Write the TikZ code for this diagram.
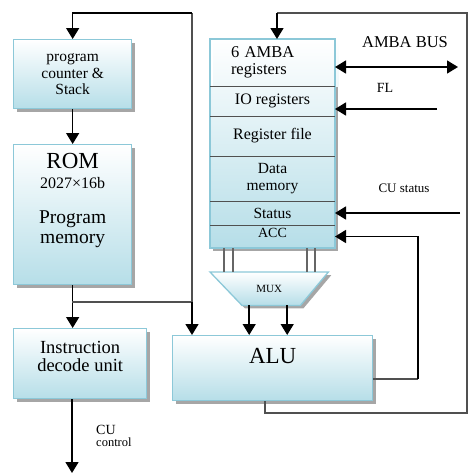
\documentclass[tikz,border=0pt]{standalone}
\usepackage{fontspec}
\setmainfont{Liberation Serif}
\usetikzlibrary{arrows.meta,positioning,shadows,backgrounds}

\definecolor{blkblue}{RGB}{182,222,232}
\definecolor{blkborder}{RGB}{140,200,216}
\definecolor{wiregray}{RGB}{80,80,80}

\tikzset{
  block/.style={draw=blkborder, line width=1.3pt, top color=white, bottom color=blkblue,
    drop shadow={shadow xshift=3pt, shadow yshift=-3pt, fill=black!35, opacity=1},
    align=center, inner sep=0pt, anchor=north west},
  regrow/.style={minimum width=125pt, inner sep=0pt, outer sep=0pt, align=center,
    anchor=north west, font=\fontsize{16}{17}\selectfont},
  arrow/.style={-{Triangle[length=11pt,width=13pt]}, line width=1.5pt, black},
  dblarrow/.style={{Triangle[length=11pt,width=13pt]}-{Triangle[length=11pt,width=13pt]}, line width=1.5pt, black},
  wire/.style={line width=1.3pt, draw=wiregray},
  divider/.style={line width=1pt, draw=wiregray}
}

\begin{document}
\begin{tikzpicture}[x=1pt,y=-1pt]
\useasboundingbox (0,0) rectangle (470,475);

% Left column: program counter, ROM, decoder
\node[block, minimum width=118pt, minimum height=69pt, font=\fontsize{15.5}{16.5}\selectfont] (pc) at (13,39) {program\\counter \&\\Stack};
\node[block, minimum width=118pt, minimum height=140pt] (rom) at (13,144) {};
\node[anchor=north, align=center, font=\fontsize{19.5}{20}\selectfont] (romtext) at ([yshift=-6pt]rom.north)
  {{\fontsize{23}{22}\selectfont ROM}\\{\fontsize{16}{18}\selectfont 2027×16b}\\[15pt]Program\\memory};
\node[block, minimum width=133pt, minimum height=70pt, font=\fontsize{18.5}{18}\selectfont] (idu) at (13,328) {Instruction\\decode unit\\[-4pt]};

% ALU
\node[block, minimum width=200pt, minimum height=65pt] (alu) at (172,335) {};
\node[font=\fontsize{23}{24}\selectfont] (alutext) at ([yshift=-21pt]alu.north) {ALU};

% Register stack
\fill[black!35] (213,42) rectangle (338,251);
\node[regrow, minimum height=47pt, top color=white, bottom color=blkblue!22, text width=90pt, align=left,
  inner xsep=17.5pt, xshift=3.5pt, font=\fontsize{16.5}{17}\selectfont] (amba) at (210,39) {6 AMBA\\registers};
\node[regrow, minimum height=30pt, top color=blkblue!22, bottom color=blkblue!37, below=0pt of amba, xshift=-3.5pt] (io) {IO registers};
\node[regrow, minimum height=40pt, top color=blkblue!37, bottom color=blkblue!56, below=0pt of io] (regfile) {Register file};
\node[regrow, minimum height=45pt, top color=blkblue!56, bottom color=blkblue!78, below=0pt of regfile,
  font=\fontsize{15.5}{17}\selectfont] (datamem) {Data\\memory};
\node[regrow, minimum height=24pt, top color=blkblue!78, bottom color=blkblue!89, below=0pt of datamem,
  font=\fontsize{15.5}{16}\selectfont] (status) {Status};
\node[regrow, minimum height=23pt, top color=blkblue!89, bottom color=blkblue, below=0pt of status,
  font=\fontsize{14}{14}\selectfont, text depth=7pt] (acc) {ACC};
\draw[blkborder, line width=1.3pt] (amba.north west -| io.west) rectangle (acc.south east);
\foreach \r in {io,regfile,datamem,status,acc}
  \draw[divider] (\r.north west) -- (\r.north east);

% Multiplexer
\node[minimum width=118pt, minimum height=33pt, inner sep=0pt, anchor=north west,
  font=\fontsize{11}{12}\selectfont] (mux) at (210,272) {MUX};
\begin{scope}[on background layer]
  \fill[black!35] ([shift={(3pt,-3pt)}]mux.north west) -- ([shift={(3pt,-3pt)}]mux.north east)
    -- ([shift={(-25pt,-3pt)}]mux.south east) -- ([shift={(35pt,-3pt)}]mux.south west) -- cycle;
  \path[draw=blkborder, line width=1.3pt, top color=white, bottom color=blkblue]
    (mux.north west) -- (mux.north east) -- ([xshift=-28pt]mux.south east) -- ([xshift=32pt]mux.south west) -- cycle;
\end{scope}
\foreach \dx in {14,23,97,105}
  \draw[wire, draw=gray!80!black] ([xshift=\dx pt]acc.south west) -- ([xshift=\dx pt]mux.north west);
\coordinate (muxa) at ([xshift=-20pt]mux.south);
\coordinate (muxb) at ([xshift=18pt]mux.south);
\draw[arrow] (muxa) -- (muxa |- alu.north);
\draw[arrow] (muxb) -- (muxb |- alu.north);

% Program bus on the left
\coordinate (romjoin) at (72,302);
\coordinate (busturn) at (192,13);
\draw[arrow] (rom.south) -- (rom.south |- idu.north);
\draw[arrow] (pc.south) -- (rom.north);
\draw[wire] (romjoin) -| (busturn);
\draw[arrow] (busturn) -| (pc.north);
\draw[arrow] (romjoin -| busturn) -- (busturn |- alu.north);

% ALU result back to the AMBA registers
\coordinate (alufb) at (265,413);
\coordinate (rbus) at (467,13);
\coordinate (regturn) at (277,13);
\draw[wire] (alu.south -| alufb) -- (alufb) -| (rbus) -- (regturn);
\draw[arrow] (regturn) -- (regturn |- amba.north);

% ALU result to ACC
\coordinate (accturn) at (418,379);
\draw[wire] (alu.east |- accturn) -- (accturn);
\draw[arrow] (accturn) |- (acc.east);

% External signals
\coordinate (ambaend) at (458,67);
\draw[dblarrow] (io.east |- ambaend) -- (ambaend);
\coordinate (flin) at (437,109);
\draw[arrow] (flin) -- (flin -| io.east);
\coordinate (cusin) at (460,213);
\draw[arrow] (cusin) -- (cusin -| status.east);
\coordinate (cuout) at (72,473);
\draw[arrow] (idu.south -| cuout) -- (cuout);

% Labels
\node[font=\fontsize{16.5}{18}\selectfont] (ambalabel) at (405,42) {AMBA BUS};
\node[font=\fontsize{14}{15}\selectfont] (fllabel) at (385,88) {FL};
\node[font=\fontsize{13}{14}\selectfont] (cuslabel) at (404,188) {CU status};
\node[anchor=west, align=left, inner sep=0pt] (cuctl) at (96,436)
  {{\fontsize{14}{14}\selectfont CU}\\{\fontsize{12.5}{14}\selectfont control}};
\end{tikzpicture}
\end{document}
